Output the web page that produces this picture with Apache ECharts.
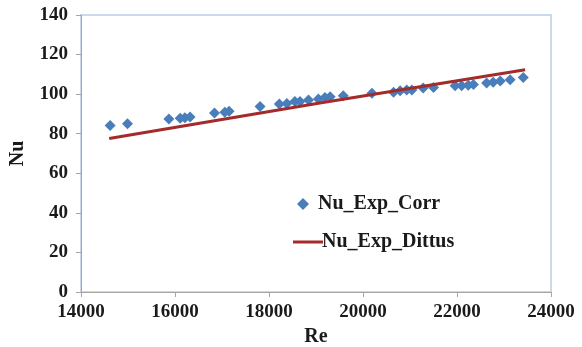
<!DOCTYPE html>
<html>
<head>
<meta charset="utf-8">
<script src="https://cdn.jsdelivr.net/npm/echarts@6/dist/echarts.min.js"></script>
<style>
  html, body { margin: 0; padding: 0; background: #ffffff; }
  #chart { width: 582px; height: 347px; }
</style>
</head>
<body>
<div id="chart"></div>
<script>
// Measured Nusselt number vs Reynolds number
const reExp = [14620, 14990, 15870, 16110, 16210, 16320, 16840, 17060, 17150,
  17810, 18220, 18380, 18550, 18660, 18840, 19050, 19190, 19300, 19580, 20190,
  20650, 20790, 20930, 21040, 21280, 21500, 21960, 22100, 22240, 22350, 22630,
  22770, 22920, 23130, 23410];
const nuExp = [84.2, 85.0, 87.5, 87.8, 88.1, 88.5, 90.5, 90.8, 91.3,
  93.8, 95.0, 95.3, 96.3, 96.3, 97.0, 97.5, 98.3, 98.7, 99.2, 100.4,
  100.9, 101.7, 102.1, 102.1, 103.1, 103.4, 104.2, 104.2, 104.5, 104.9, 105.6,
  106.0, 106.6, 107.3, 108.4];

// Dittus-Boelter correlation curve
const reDittus = [14600, 19050, 23450];
const nuDittus = [77.6, 95.4, 112.3];

const xTicks = [14000, 16000, 18000, 20000, 22000, 24000];
const yTicks = [0, 20, 40, 60, 80, 100, 120, 140];

const font = '"Liberation Serif", "Times New Roman", serif';
const textColor = '#1a1a1a';

const chart = echarts.init(document.getElementById('chart'), null, { renderer: 'canvas' });

chart.setOption({
  backgroundColor: '#ffffff',
  animation: false,
  grid: {
    left: 81, right: 31, top: 15, bottom: 55,
    outerBoundsMode: 'none',
    containLabel: false,
    show: true,
    borderColor: '#b9cde5',
    borderWidth: 1.5,
    backgroundColor: 'transparent'
  },
  legend: [
    {
      data: [{ name: 'Nu_Exp_Corr', icon: 'diamond' }],
      left: 292, top: 189,
      itemWidth: 12, itemHeight: 12, itemGap: 0,
      textStyle: { fontFamily: font, fontWeight: 'bold', fontSize: 20, color: textColor, padding: [0, 0, 0, 4] }
    },
    {
      data: [{ name: 'Nu_Exp_Dittus', icon: 'rect' }],
      left: 288, top: 227,
      itemWidth: 30, itemHeight: 3, itemGap: 0,
      textStyle: { fontFamily: font, fontWeight: 'bold', fontSize: 20, color: textColor, padding: [0, 0, 0, -6] }
    }
  ],
  xAxis: {
    type: 'value',
    min: xTicks[0], max: xTicks[xTicks.length - 1], interval: 2000,
    name: 'Re', nameLocation: 'middle', nameGap: 34,
    nameTextStyle: { fontFamily: font, fontWeight: 'bold', fontSize: 20, color: textColor },
    axisLine: { show: true, lineStyle: { color: '#a6a6a6', width: 1 } },
    axisTick: { show: true, length: 5, lineStyle: { color: '#a6a6a6' } },
    axisLabel: { fontFamily: font, fontWeight: 'bold', fontSize: 19, color: textColor, margin: 11,
      formatter: v => String(v) },
    splitLine: { show: false }
  },
  yAxis: {
    type: 'value',
    min: yTicks[0], max: yTicks[yTicks.length - 1], interval: 20,
    name: 'Nu', nameLocation: 'middle', nameGap: 53, nameRotate: 90,
    nameTextStyle: { fontFamily: font, fontWeight: 'bold', fontSize: 20, color: textColor },
    axisLine: { show: true, lineStyle: { color: '#a6a6a6', width: 1 } },
    axisTick: { show: true, length: 5, lineStyle: { color: '#a6a6a6' } },
    axisLabel: { fontFamily: font, fontWeight: 'bold', fontSize: 19, color: textColor, margin: 13 },
    splitLine: { show: false }
  },
  series: [
    {
      name: 'Nu_Exp_Dittus',
      type: 'line',
      data: reDittus.map((r, i) => [r, nuDittus[i]]),
      showSymbol: false,
      symbol: 'none',
      lineStyle: { color: '#a52a2a', width: 3 },
      itemStyle: { color: '#a52a2a' },
      z: 3
    },
    {
      name: 'Nu_Exp_Corr',
      type: 'scatter',
      data: reExp.map((r, i) => [r, nuExp[i]]),
      symbol: 'diamond',
      symbolSize: 11,
      itemStyle: { color: '#4a7ebb', opacity: 1 },
      z: 2
    }
  ]
});
</script>
</body>
</html>
